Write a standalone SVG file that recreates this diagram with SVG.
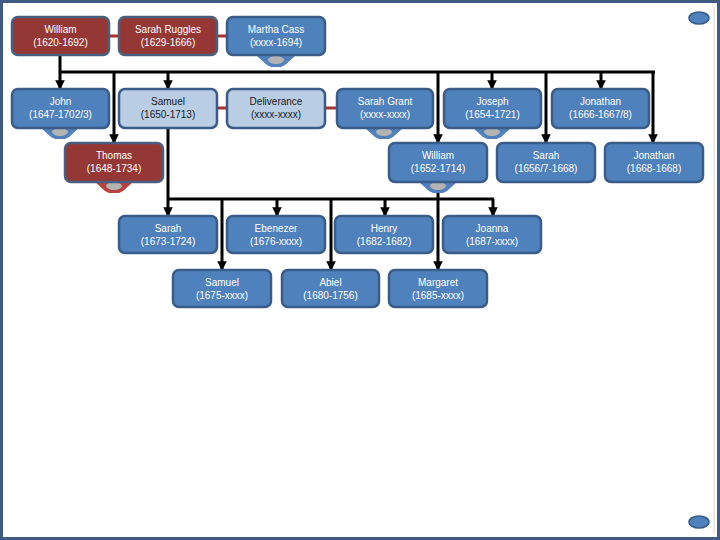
<svg xmlns="http://www.w3.org/2000/svg" width="720" height="540" viewBox="0 0 720 540">
<defs>
<style>
.b rect{fill:#4f81bd;stroke:#3a5c88;stroke-width:2.5}
.r rect{fill:#953735;stroke:#4a5f80;stroke-width:2.5}
.l rect{fill:#b9cde5;stroke:#3a5c88;stroke-width:2.5}
text{font-family:"Liberation Sans",Arial,sans-serif;font-size:10px;text-anchor:middle}
.b text,.r text{fill:#ffffff}
.l text{fill:#1a1a1a}
.c line{stroke:#000;stroke-width:3}
.m line{stroke:#a8302e;stroke-width:3}
.chev{fill:#4f81bd}
.chevr{fill:#b9423f}
.grey{fill:#b3b3b3}
</style>
<marker id="ah" viewBox="0 0 10 10" refX="9" refY="5" markerWidth="3.2" markerHeight="3.2" orient="auto" markerUnits="strokeWidth">
<path d="M0,0 L10,5 L0,10 Z" fill="#000"/>
</marker>
<g id="chevron"><path class="chev" d="M-19,0 L19,0 L9,9 L5,11 L-5,11 L-9,9 Z"/><ellipse class="grey" cx="0" cy="4" rx="8" ry="4"/></g>
</defs>
<rect x="0" y="0" width="720" height="540" fill="#ffffff"/>
<rect x="1.5" y="1.5" width="717" height="537" fill="none" stroke="#3f5b82" stroke-width="3"/>
<line x1="714" y1="6" x2="714" y2="534" stroke="#d8d8d8" stroke-width="1"/>
<ellipse cx="699" cy="18" rx="10" ry="6" fill="#4f81bd" stroke="#3a5c88" stroke-width="1.5"/>
<ellipse cx="699" cy="522" rx="10" ry="6" fill="#4f81bd" stroke="#3a5c88" stroke-width="1.5"/>

<g id="connectors">
<g class="m">
<line x1="109" y1="36" x2="119" y2="36"/>
<line x1="217" y1="36" x2="227" y2="36"/>
<line x1="217" y1="108" x2="227" y2="108"/>
<line x1="325" y1="108" x2="337" y2="108"/>
</g>
<g class="c">
<line x1="60" y1="72" x2="655" y2="72"/>
<line x1="60" y1="55" x2="60" y2="89" marker-end="url(#ah)"/>
<line x1="168" y1="72" x2="168" y2="89" marker-end="url(#ah)"/>
<line x1="492" y1="72" x2="492" y2="89" marker-end="url(#ah)"/>
<line x1="601" y1="72" x2="601" y2="89" marker-end="url(#ah)"/>
<line x1="114" y1="72" x2="114" y2="143" marker-end="url(#ah)"/>
<line x1="438" y1="72" x2="438" y2="143" marker-end="url(#ah)"/>
<line x1="546" y1="72" x2="546" y2="143" marker-end="url(#ah)"/>
<line x1="653" y1="72" x2="653" y2="143" marker-end="url(#ah)"/>
<line x1="168" y1="199" x2="494" y2="199"/>
<line x1="168" y1="128" x2="168" y2="216" marker-end="url(#ah)"/>
<line x1="222" y1="199" x2="222" y2="270" marker-end="url(#ah)"/>
<line x1="277" y1="199" x2="277" y2="216" marker-end="url(#ah)"/>
<line x1="331" y1="199" x2="331" y2="270" marker-end="url(#ah)"/>
<line x1="385" y1="199" x2="385" y2="216" marker-end="url(#ah)"/>
<line x1="438" y1="192" x2="438" y2="270" marker-end="url(#ah)"/>
<line x1="493" y1="199" x2="493" y2="216" marker-end="url(#ah)"/>
</g>
</g>

<use href="#chevron" x="276" y="56"/>
<use href="#chevron" x="60" y="128"/>
<use href="#chevron" x="384" y="128"/>
<use href="#chevron" x="492" y="128"/>
<g transform="translate(114,182)"><path class="chevr" d="M-19,0 L19,0 L9,9 L5,11 L-5,11 L-9,9 Z"/><ellipse class="grey" cx="0" cy="4" rx="8" ry="4"/></g>
<use href="#chevron" x="438" y="182"/>

<g id="william1" class="r"><rect x="12" y="17" width="97" height="38" rx="6"/><text x="60.5" y="33">William</text><text x="60.5" y="46">(1620-1692)</text></g>
<g id="sarah-ruggles" class="r"><rect x="119" y="17" width="98" height="38" rx="6"/><text x="168" y="33">Sarah Ruggles</text><text x="168" y="46">(1629-1666)</text></g>
<g id="martha-cass" class="b"><rect x="227" y="17" width="98" height="38" rx="6"/><text x="276" y="33">Martha Cass</text><text x="276" y="46">(xxxx-1694)</text></g>

<g id="john" class="b"><rect x="12" y="89" width="97" height="39" rx="6"/><text x="60.5" y="105">John</text><text x="60.5" y="118">(1647-1702/3)</text></g>
<g id="samuel1" class="l"><rect x="119" y="89" width="98" height="39" rx="6"/><text x="168" y="105">Samuel</text><text x="168" y="118">(1650-1713)</text></g>
<g id="deliverance" class="l"><rect x="227" y="89" width="98" height="39" rx="6"/><text x="276" y="105">Deliverance</text><text x="276" y="118">(xxxx-xxxx)</text></g>
<g id="sarah-grant" class="b"><rect x="337" y="89" width="96" height="39" rx="6"/><text x="385" y="105">Sarah Grant</text><text x="385" y="118">(xxxx-xxxx)</text></g>
<g id="joseph" class="b"><rect x="444" y="89" width="97" height="39" rx="6"/><text x="492.5" y="105">Joseph</text><text x="492.5" y="118">(1654-1721)</text></g>
<g id="jonathan1" class="b"><rect x="552" y="89" width="97" height="39" rx="6"/><text x="600.5" y="105">Jonathan</text><text x="600.5" y="118">(1666-1667/8)</text></g>

<g id="thomas" class="r"><rect x="65" y="143" width="98" height="39" rx="6"/><text x="114" y="159">Thomas</text><text x="114" y="172">(1648-1734)</text></g>
<g id="william2" class="b"><rect x="389" y="143" width="98" height="39" rx="6"/><text x="438" y="159">William</text><text x="438" y="172">(1652-1714)</text></g>
<g id="sarah2" class="b"><rect x="497" y="143" width="98" height="39" rx="6"/><text x="546" y="159">Sarah</text><text x="546" y="172">(1656/7-1668)</text></g>
<g id="jonathan2" class="b"><rect x="605" y="143" width="98" height="39" rx="6"/><text x="654" y="159">Jonathan</text><text x="654" y="172">(1668-1668)</text></g>

<g id="sarah3" class="b"><rect x="119" y="216" width="98" height="37" rx="6"/><text x="168" y="232">Sarah</text><text x="168" y="245">(1673-1724)</text></g>
<g id="ebenezer" class="b"><rect x="227" y="216" width="98" height="37" rx="6"/><text x="276" y="232">Ebenezer</text><text x="276" y="245">(1676-xxxx)</text></g>
<g id="henry" class="b"><rect x="335" y="216" width="98" height="37" rx="6"/><text x="384" y="232">Henry</text><text x="384" y="245">(1682-1682)</text></g>
<g id="joanna" class="b"><rect x="443" y="216" width="98" height="37" rx="6"/><text x="492" y="232">Joanna</text><text x="492" y="245">(1687-xxxx)</text></g>

<g id="samuel2" class="b"><rect x="173" y="270" width="98" height="37" rx="6"/><text x="222" y="286">Samuel</text><text x="222" y="299">(1675-xxxx)</text></g>
<g id="abiel" class="b"><rect x="282" y="270" width="97" height="37" rx="6"/><text x="330.5" y="286">Abiel</text><text x="330.5" y="299">(1680-1756)</text></g>
<g id="margaret" class="b"><rect x="389" y="270" width="98" height="37" rx="6"/><text x="438" y="286">Margaret</text><text x="438" y="299">(1685-xxxx)</text></g>
</svg>
